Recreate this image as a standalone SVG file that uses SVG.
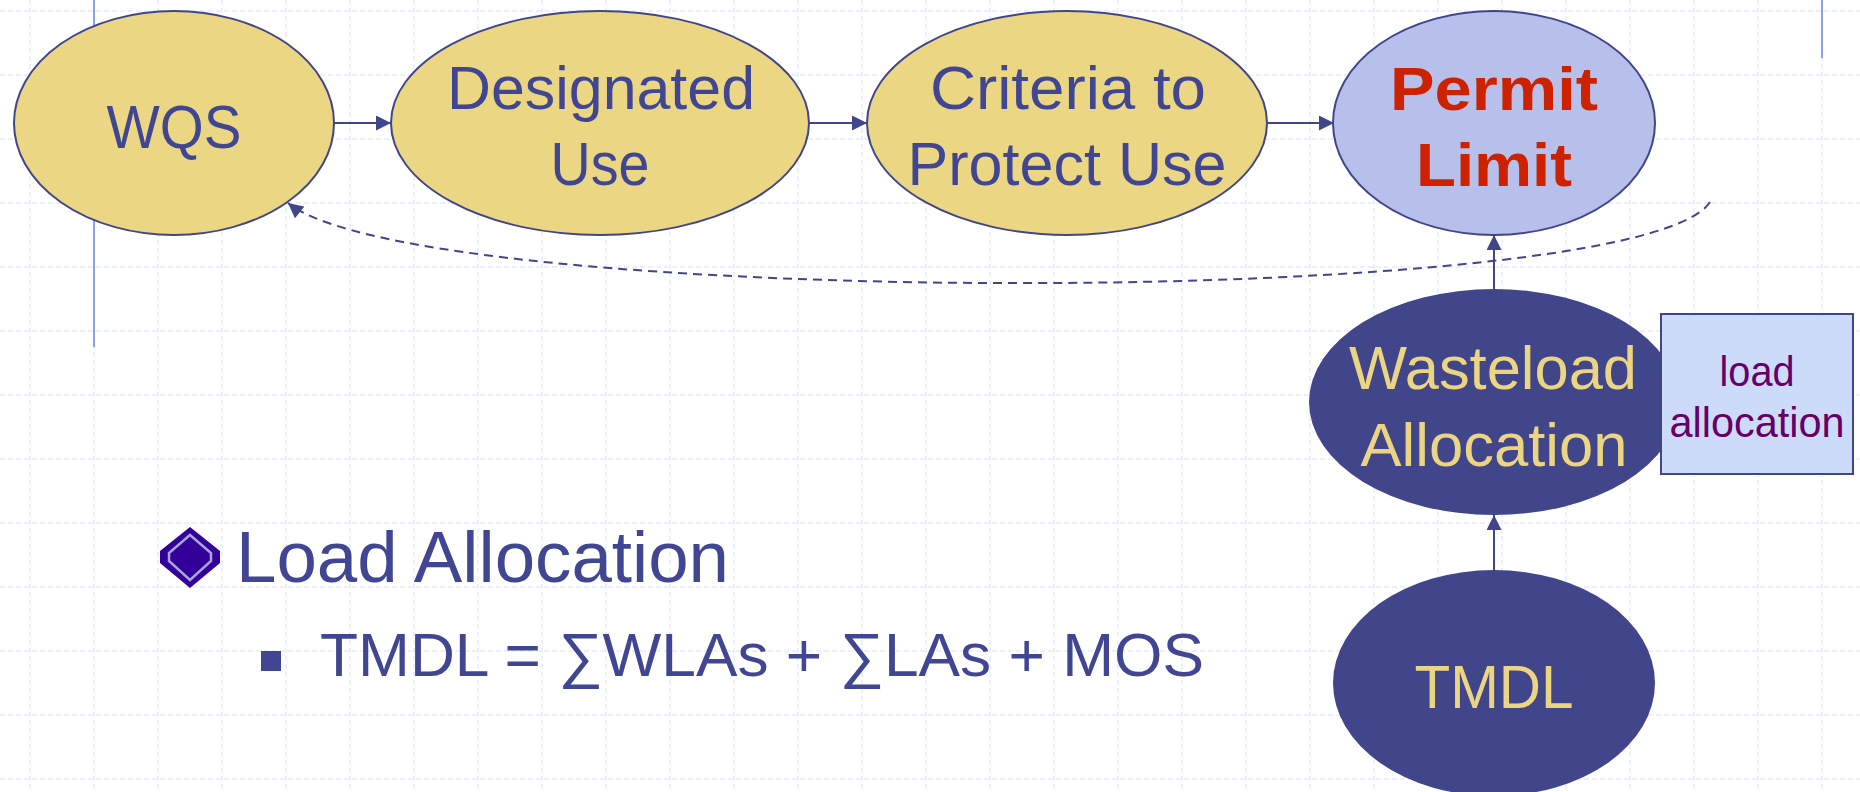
<svg xmlns="http://www.w3.org/2000/svg" width="1860" height="792" viewBox="0 0 1860 792">
<style>
.grid{stroke:#d9e1f8;stroke-width:1;stroke-dasharray:5 3;fill:none}
.rule{stroke:#6f8ff0;stroke-width:1.6;fill:none}
.yel{fill:#ebd684;stroke:#404689;stroke-width:2}
.per{fill:#b7c0eb;stroke:#404689;stroke-width:2}
.dark{fill:#414589}
.lbl{font-family:"Liberation Sans",Arial,sans-serif;font-size:62px;text-anchor:middle}
.navy{fill:#414693}
.gold{fill:#ecd582}
.red{fill:#cc2200;font-weight:bold}
.conn{stroke:#404689;stroke-width:2;fill:none}
.dash{stroke-dasharray:9 6}
.body{font-family:"Liberation Sans",Arial,sans-serif;fill:#414693}
</style>
<defs>
<marker id="arr" viewBox="0 0 10 10" refX="10" refY="5" markerUnits="userSpaceOnUse" markerWidth="16" markerHeight="15" orient="auto">
<path d="M0,0 L10,5 L0,10 z" fill="#404689" stroke="none"/>
</marker>
</defs>
<rect width="1860" height="792" fill="#ffffff"/>
<path class="grid" d="M30 0V792M94 0V792M158 0V792M222 0V792M286 0V792M350 0V792M414 0V792M478 0V792M542 0V792M606 0V792M670 0V792M734 0V792M798 0V792M862 0V792M926 0V792M990 0V792M1054 0V792M1118 0V792M1182 0V792M1246 0V792M1310 0V792M1374 0V792M1438 0V792M1502 0V792M1566 0V792M1630 0V792M1694 0V792M1758 0V792M1822 0V792M0 11H1860M0 75H1860M0 139H1860M0 203H1860M0 267H1860M0 331H1860M0 395H1860M0 459H1860M0 523H1860M0 587H1860M0 651H1860M0 715H1860M0 779H1860"/>
<path class="rule" d="M94 0V347M1822 0V58"/>

<g id="wqs">
<ellipse class="yel" cx="174" cy="123" rx="160" ry="112"/>
<text class="lbl navy" x="174" y="148" textLength="135" lengthAdjust="spacingAndGlyphs">WQS</text>
</g>
<g id="designated-use">
<ellipse class="yel" cx="600" cy="123" rx="209" ry="112"/>
<text class="lbl navy" x="601" y="109" textLength="308" lengthAdjust="spacingAndGlyphs">Designated</text>
<text class="lbl navy" x="600" y="185" textLength="99" lengthAdjust="spacingAndGlyphs">Use</text>
</g>
<g id="criteria">
<ellipse class="yel" cx="1067" cy="123" rx="200" ry="112"/>
<text class="lbl navy" x="1068" y="109" textLength="276" lengthAdjust="spacingAndGlyphs">Criteria to</text>
<text class="lbl navy" x="1067" y="185" textLength="319" lengthAdjust="spacingAndGlyphs">Protect Use</text>
</g>
<g id="permit-limit">
<ellipse class="per" cx="1494" cy="123" rx="161" ry="112"/>
<text class="lbl red" x="1494" y="110" textLength="208" lengthAdjust="spacingAndGlyphs">Permit</text>
<text class="lbl red" x="1494" y="186" textLength="156" lengthAdjust="spacingAndGlyphs">Limit</text>
</g>
<g id="wasteload">
<ellipse class="dark" cx="1494" cy="402" rx="185" ry="113"/>
<text class="lbl gold" x="1493" y="389" textLength="288" lengthAdjust="spacingAndGlyphs">Wasteload</text>
<text class="lbl gold" x="1494" y="466" textLength="267" lengthAdjust="spacingAndGlyphs">Allocation</text>
</g>
<g id="load-allocation-box">
<rect x="1661" y="314" width="192" height="160" fill="#cddbfb" stroke="#404689" stroke-width="2"/>
<text class="lbl" style="font-size:42px;fill:#660066" x="1757" y="386" textLength="75" lengthAdjust="spacingAndGlyphs">load</text>
<text class="lbl" style="font-size:42px;fill:#660066" x="1757" y="437" textLength="175" lengthAdjust="spacingAndGlyphs">allocation</text>
</g>
<g id="tmdl">
<ellipse class="dark" cx="1494" cy="683" rx="161" ry="113"/>
<text class="lbl gold" x="1494" y="708" textLength="159" lengthAdjust="spacingAndGlyphs">TMDL</text>
</g>

<g id="connectors">
<path class="conn" d="M334 123H391" marker-end="url(#arr)"/>
<path class="conn" d="M808 123H867" marker-end="url(#arr)"/>
<path class="conn" d="M1267 123H1334" marker-end="url(#arr)"/>
<path class="conn" d="M1494 290V235" marker-end="url(#arr)"/>
<path class="conn" d="M1494 570V515" marker-end="url(#arr)"/>
<path class="conn dash" d="M1710 202C1640 310 420 310 288 203" marker-end="url(#arr)"/>
</g>

<g id="bullets">
<polygon points="190,527 220,551 220,563 190,588 160,563 160,551" fill="#330099"/>
<polygon points="190,535 211,553 211,561 190,580 169,561 169,553" fill="none" stroke="#a8a4dc" stroke-width="2.5"/>
<text class="body" x="236" y="582" style="font-size:72px" textLength="493" lengthAdjust="spacingAndGlyphs">Load Allocation</text>
<rect x="261" y="651" width="20" height="20" fill="#414693"/>
<text class="body" x="320" y="676" style="font-size:61px" textLength="884" lengthAdjust="spacingAndGlyphs">TMDL = ∑WLAs + ∑LAs + MOS</text>
</g>
</svg>
